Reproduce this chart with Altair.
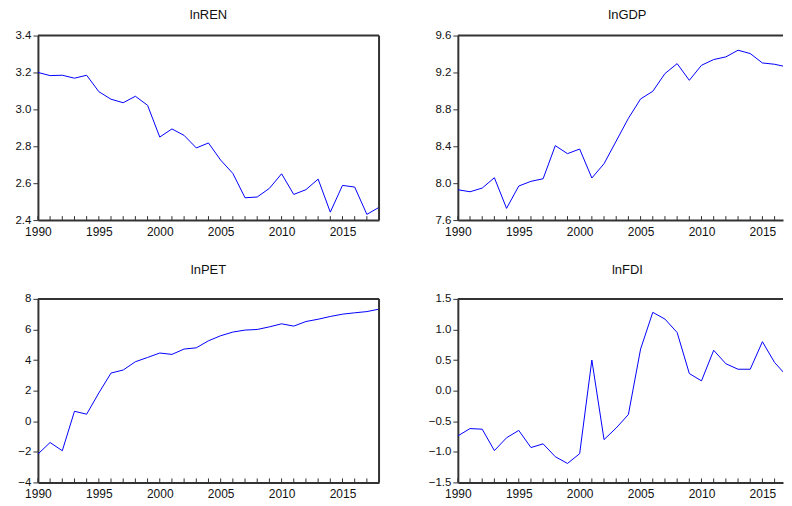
import altair as alt
import pandas as pd

years = list(range(1990, 2019))

ln_ren = [3.20, 3.183, 3.185, 3.169, 3.185, 3.096, 3.055, 3.036, 3.071, 3.022,
          2.850, 2.894, 2.859, 2.791, 2.818, 2.725, 2.653, 2.521, 2.525, 2.572,
          2.651, 2.539, 2.565, 2.622, 2.443, 2.588, 2.579, 2.431, 2.469]

ln_gdp = [7.929, 7.907, 7.947, 8.059, 7.727, 7.969, 8.020, 8.048, 8.407, 8.320,
          8.370, 8.056, 8.211, 8.457, 8.703, 8.913, 8.996, 9.188, 9.296, 9.115,
          9.278, 9.340, 9.369, 9.441, 9.405, 9.303, 9.289, 9.260, 9.20]

ln_pet = [-2.15, -1.39, -1.93, 0.65, 0.46, 1.85, 3.15, 3.35, 3.89, 4.17,
          4.46, 4.37, 4.72, 4.80, 5.26, 5.59, 5.83, 5.96, 6.00, 6.17,
          6.37, 6.22, 6.52, 6.67, 6.85, 7.00, 7.09, 7.17, 7.33]

ln_fdi = [-0.74, -0.62, -0.63, -0.98, -0.77, -0.65, -0.93, -0.87, -1.08, -1.19,
          -1.03, 0.50, -0.80, -0.61, -0.39, 0.68, 1.28, 1.17, 0.95, 0.28,
          0.16, 0.66, 0.44, 0.35, 0.35, 0.80, 0.46, 0.24, 0.42]

x_labels = [1990, 1995, 2000, 2005, 2010, 2015]
ren_ticks = [2.4, 2.6, 2.8, 3.0, 3.2, 3.4]
gdp_ticks = [7.6, 8.0, 8.4, 8.8, 9.2, 9.6]
pet_ticks = [-4, -2, 0, 2, 4, 6, 8]
fdi_ticks = [-1.5, -1.0, -0.5, 0.0, 0.5, 1.0, 1.5]

FONT = "Liberation Sans"
LINE = "#0000ff"
FRAME = "#333333"
LEFT_W = 342
RIGHT_W = 326  # right panel is cut by the page edge, as in the reference
RIGHT_XMAX = 1990 + RIGHT_W / (LEFT_W / 28)


def panel(title, values, ydom, yvals, yfmt, xmax, width, height, frame_right,
          title_offset, title_dx):
    df = pd.DataFrame({"year": years, "value": values})
    xscale = alt.Scale(domain=[1990, xmax], nice=False, zero=False)
    yscale = alt.Scale(domain=ydom, nice=False, zero=False)
    xaxis = alt.Axis(values=x_labels, format="d", ticks=False, title=None,
                     labelFlush=False, labelOverlap=False, labelPadding=6,
                     grid=False, labelFontSize=12)
    line = alt.Chart(df).mark_line(color=LINE, strokeWidth=1, clip=True).encode(
        x=alt.X("year:Q", scale=xscale, axis=xaxis),
        y=alt.Y("value:Q", scale=yscale,
                axis=alt.Axis(values=yvals, format=yfmt, tickSize=5, title=None,
                              labelPadding=2, grid=False, labelOverlap=False,
                              labelFlush=False, labelFontSize=11.5)),
    )
    tick_df = pd.DataFrame({"year": [y for y in years if y <= xmax]})
    ticks = alt.Chart(tick_df).mark_rule(color=FRAME, strokeWidth=1).encode(
        x=alt.X("year:Q", scale=xscale, axis=xaxis),
        y=alt.value(height),
        y2=alt.value(height - 4),
    )
    one = pd.DataFrame({"k": [0]})
    top = alt.Chart(one).mark_rule(color=FRAME, strokeWidth=2).encode(
        x=alt.value(0), x2=alt.value(width), y=alt.value(0))
    layers = [line, ticks, top]
    if frame_right:
        right = alt.Chart(one).mark_rule(color=FRAME, strokeWidth=2).encode(
            x=alt.value(width), y=alt.value(0), y2=alt.value(height))
        layers.append(right)
    return alt.layer(*layers).properties(
        width=width,
        height=height,
        title=alt.TitleParams(title, fontSize=13, font=FONT, fontWeight="normal",
                              color="#111111", offset=title_offset, frame="group",
                              anchor="middle", dx=title_dx),
    )


p1 = panel("lnREN", ln_ren, [2.4, 3.4], ren_ticks, ".1f", 2018, LEFT_W, 185, True, 8, 0)
p2 = panel("lnGDP", ln_gdp, [7.6, 9.6], gdp_ticks, ".1f", RIGHT_XMAX, RIGHT_W, 185, False, 8, 7)
p3 = panel("lnPET", ln_pet, [-4, 8], pet_ticks, "d", 2018, LEFT_W, 184, True, 16, 0)
p4 = panel("lnFDI", ln_fdi, [-1.5, 1.5], fdi_ticks, ".1f", RIGHT_XMAX, RIGHT_W, 184, False, 16, 7)

chart = alt.vconcat(
    alt.hconcat(p1, p2, spacing=48),
    alt.hconcat(p3, p4, spacing=48),
    spacing=27,
).properties(padding=0).configure_view(stroke=None).configure_axis(
    labelFont=FONT, labelColor="#111111",
    domainColor=FRAME, domainWidth=2, tickColor=FRAME, tickWidth=1,
).configure_axisY(minExtent=30, maxExtent=30)

chart.save("out.html", embed_options={"renderer": "svg", "actions": False})
